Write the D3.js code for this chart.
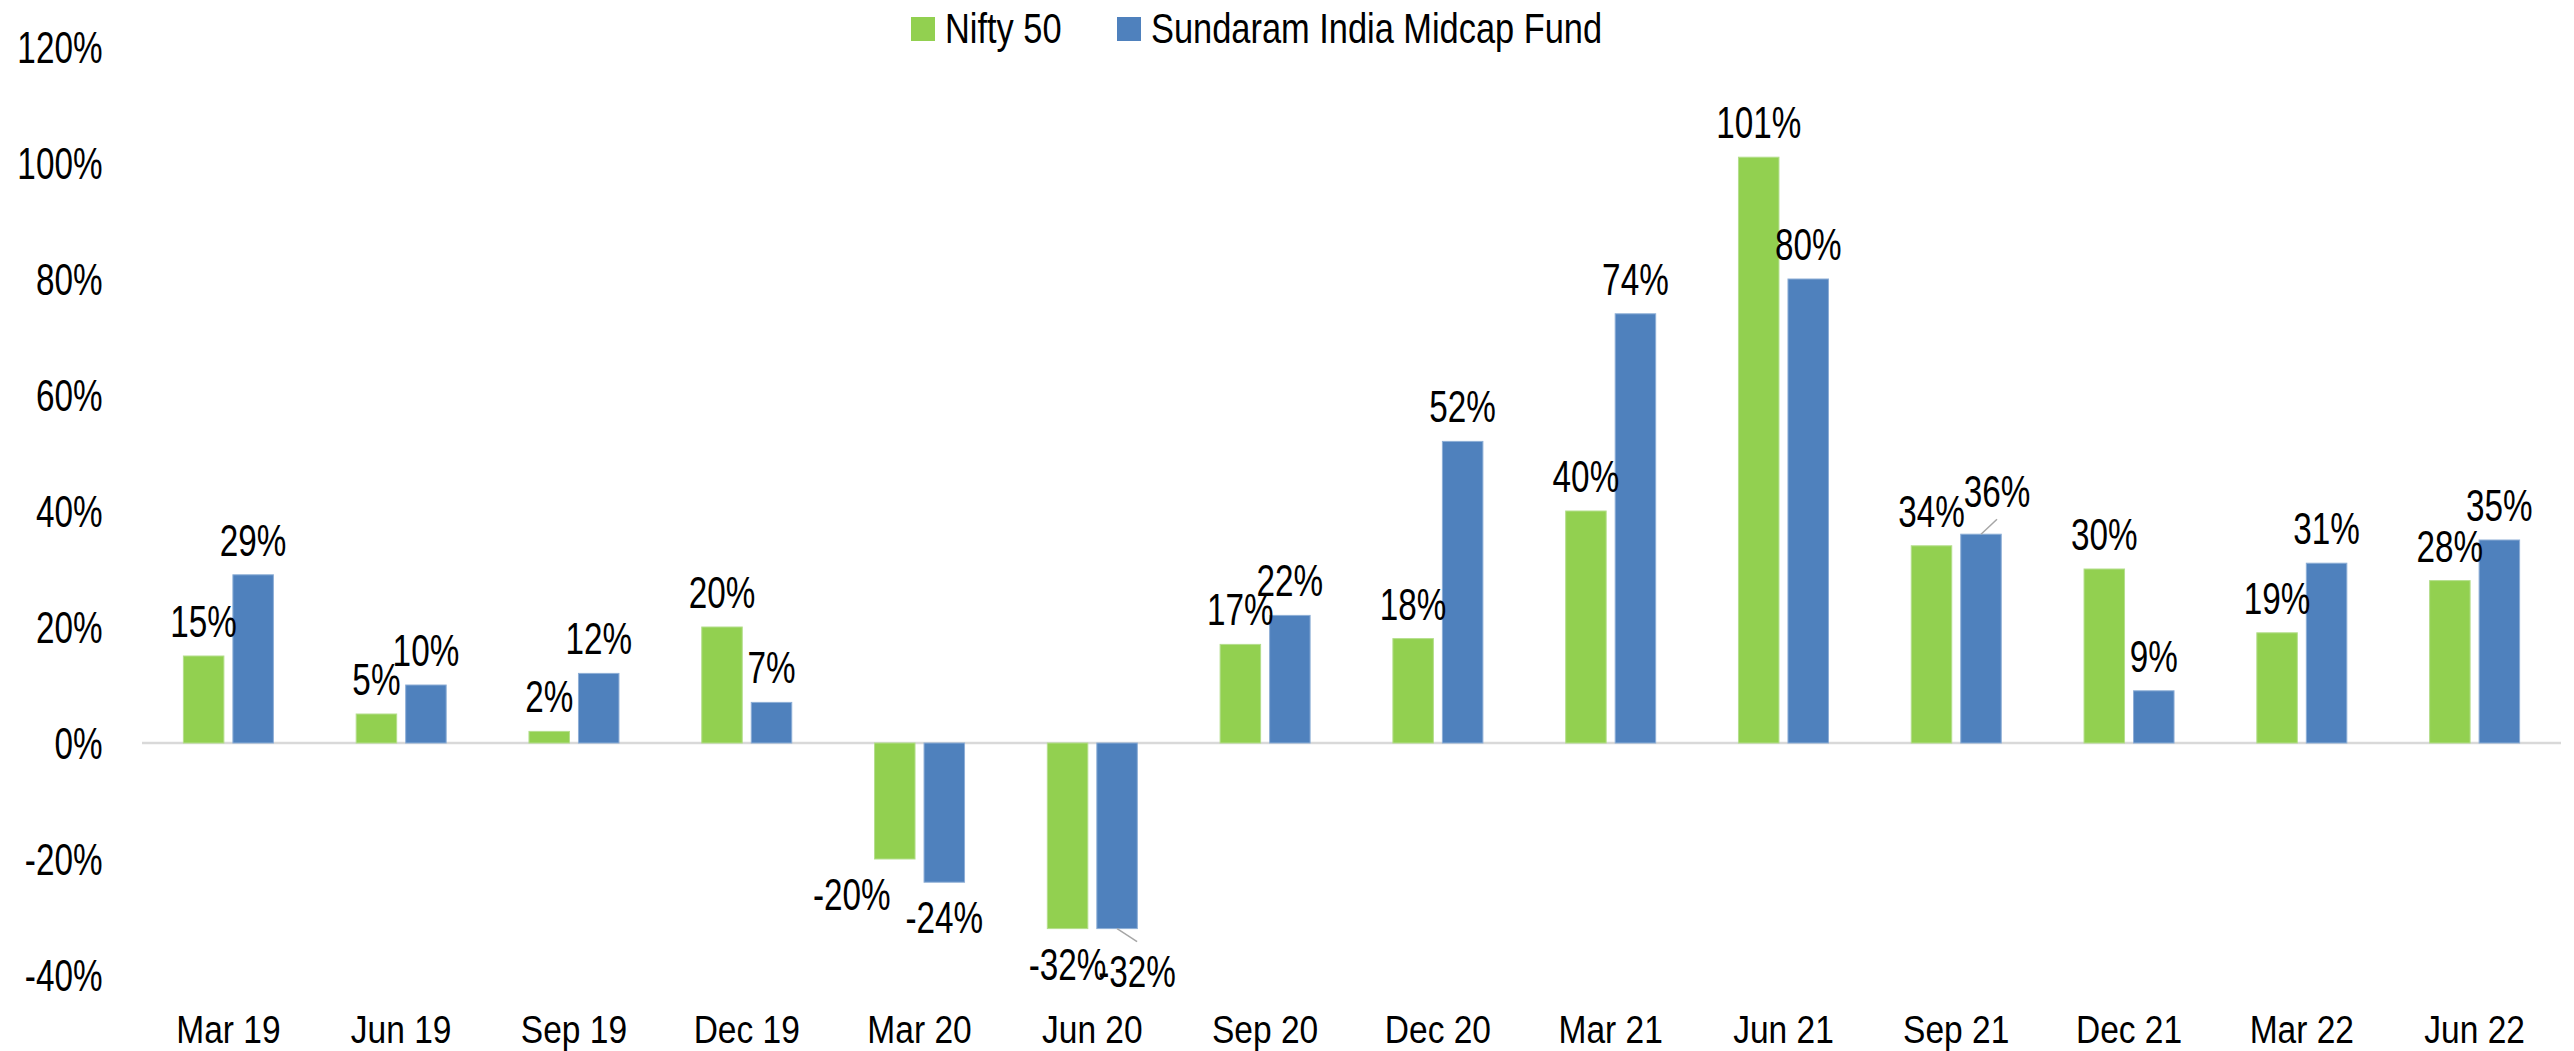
<!DOCTYPE html>
<html>
<head>
<meta charset="utf-8">
<script src="https://cdn.jsdelivr.net/npm/d3@7"></script>
<style>
  body { margin: 0; background: #fff; }
  text { font-family: "Liberation Sans", Arial, sans-serif; fill: #000; }
</style>
</head>
<body>
<svg id="chart" width="2574" height="1051"></svg>
<script>
const categories = ['Mar 19', 'Jun 19', 'Sep 19', 'Dec 19', 'Mar 20', 'Jun 20', 'Sep 20',
    'Dec 20', 'Mar 21', 'Jun 21', 'Sep 21', 'Dec 21', 'Mar 22', 'Jun 22'];
const nifty = [15, 5, 2, 20, -20, -32, 17, 18, 40, 101, 34, 30, 19, 28];
const fund = [29, 10, 12, 7, -24, -32, 22, 52, 74, 80, 36, 9, 31, 35];
const seriesNames = ['Nifty 50', 'Sundaram India Midcap Fund'];
const yTicks = [-40, -20, 0, 20, 40, 60, 80, 100, 120];

const colors = ['#92D050', '#4F81BD'];
const strokes = ['#b4de8c', '#8daed6'];

// labels that were dragged off their default spot (series, index, dx, dy, leader line)
const labelMoves = [
    {s: 0, i: 4, dx: -43, dy: 0, leader: false},
    {s: 1, i: 5, dx: 20, dy: 7, leader: true},
    {s: 1, i: 10, dx: 16, dy: -8, leader: true}
];

const build = () => {
    const svg = d3.select('#chart');

    const plotLeft = 142, plotRight = 2561;
    const squeeze = 0.74;   // text in the source is narrow and tall
    const labelSize = 45;

    const series = [nifty, fund];
    const rows = [];
    series.forEach((vals, s) => vals.forEach((v, i) => rows.push({s: s, i: i, cat: categories[i], v: v})));

    const xScale = d3.scaleBand()
        .domain(categories)
        .range([plotLeft, plotRight]);

    const xInner = d3.scaleBand()
        .domain([0, 1])
        .range([-45, 45])
        .paddingInner(0.182);

    const yScale = d3.scaleLinear()
        .domain([-40, 120])
        .range([975, 47]);

    const barX = d => xScale(d.cat) + xScale.bandwidth() / 2 + xInner(d.s);
    const barMid = d => barX(d) + xInner.bandwidth() / 2;

    // y axis labels
    const yAxis = d3.axisLeft(yScale)
        .tickValues(yTicks)
        .tickFormat(d => d + '%')
        .tickSize(0)
        .tickPadding(2);

    const yg = svg.append('g')
        .attr('transform', 'translate(' + 104 + ',0)')
        .call(yAxis);
    yg.select('.domain').remove();
    yg.selectAll('text')
        .attr('font-size', labelSize)
        .attr('font-family', '"Liberation Sans", Arial, sans-serif')
        .attr('fill', '#000')
        .attr('dy', '0.34em')
        .attr('transform', 'scale(' + squeeze + ',1)');

    // x axis labels at the bottom
    const xAxis = d3.axisBottom(xScale)
        .tickSize(0)
        .tickPadding(40);

    const xg = svg.append('g')
        .attr('transform', 'translate(0,' + yScale(-40) + ')')
        .call(xAxis);
    xg.select('.domain').remove();
    xg.selectAll('text')
        .attr('font-size', 39)
        .attr('font-family', '"Liberation Sans", Arial, sans-serif')
        .attr('fill', '#000')
        .attr('transform', 'scale(0.86,1)');

    // zero line
    svg.append('line')
        .attr('x1', plotLeft)
        .attr('x2', plotRight)
        .attr('y1', yScale(0))
        .attr('y2', yScale(0))
        .attr('stroke', '#d9d9d9')
        .attr('stroke-width', 2.5);

    svg.append('g').selectAll('rect')
        .data(rows)
        .enter()
        .append('rect')
        .attr('x', barX)
        .attr('width', xInner.bandwidth())
        .attr('y', d => yScale(Math.max(d.v, 0)))
        .attr('height', d => Math.abs(yScale(d.v) - yScale(0)))
        .attr('fill', d => colors[d.s])
        .attr('stroke', d => strokes[d.s])
        .attr('stroke-width', 1);

    // data labels
    const labelPos = d => {
        const mv = labelMoves.find(m => m.s === d.s && m.i === d.i);
        const end = yScale(d.v);
        let x = barMid(d);
        let y = d.v >= 0 ? end - 19 : end + 51;
        if (mv) {
            x += mv.dx;
            y += mv.dy;
        }
        return {x: x, y: y, mv: mv};
    };

    const lg = svg.append('g');
    rows.forEach(d => {
        const p = labelPos(d);
        if (p.mv && p.mv.leader) {
            const y0 = yScale(d.v);
            const y1 = d.v >= 0 ? p.y + 12 : p.y - 45;
            lg.append('line')
                .attr('x1', barMid(d))
                .attr('y1', y0)
                .attr('x2', p.x)
                .attr('y2', y1)
                .attr('stroke', '#a6a6a6')
                .attr('stroke-width', 1.5);
        }
        lg.append('text')
            .attr('transform', 'translate(' + p.x + ',' + p.y + ') scale(' + squeeze + ',1)')
            .attr('text-anchor', 'middle')
            .attr('font-size', labelSize)
            .text(d.v + '%');
    });

    // legend
    const legendX = [911, 1117];
    const legend = svg.append('g');
    seriesNames.forEach((name, s) => {
        legend.append('rect')
            .attr('x', legendX[s])
            .attr('y', 17)
            .attr('width', 24)
            .attr('height', 24)
            .attr('fill', colors[s]);
        legend.append('text')
            .attr('transform', 'translate(' + (legendX[s] + 34) + ',43) scale(0.8,1)')
            .attr('font-size', 43)
            .text(name);
    });
};

build();
</script>
</body>
</html>
